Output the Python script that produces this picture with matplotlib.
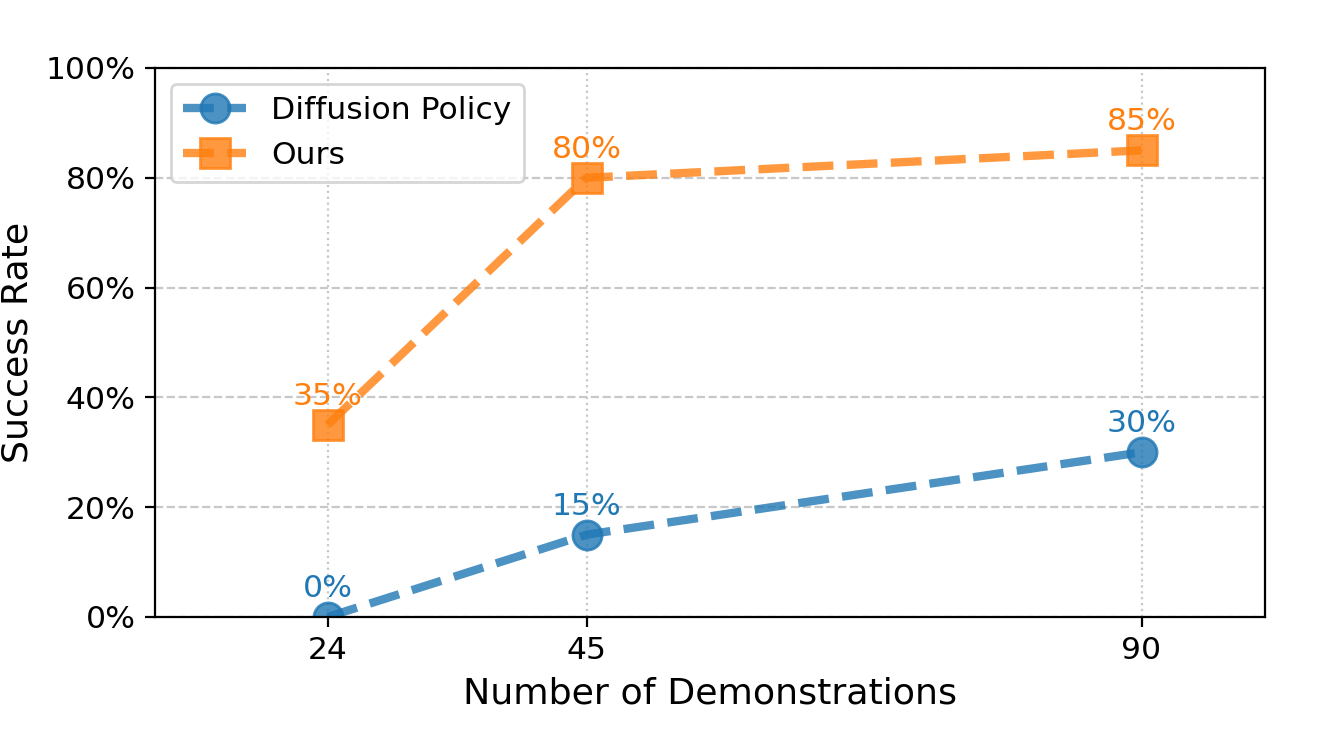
import matplotlib
matplotlib.use('Agg')
import matplotlib.pyplot as plt
from matplotlib.ticker import PercentFormatter

demos = [24, 45, 90]
diffusion_policy = [0, 15, 30]
ours = [35, 80, 85]

fig, ax = plt.subplots(figsize=(6.65, 3.655), dpi=200)
fig.subplots_adjust(left=0.1165, right=0.951, top=0.907, bottom=0.156)

ax.plot(demos, diffusion_policy, '--o', color='tab:blue', lw=3, markersize=10.5,
        alpha=0.8, label='Diffusion Policy')
ax.plot(demos, ours, '--s', color='tab:orange', lw=3, markersize=10.5,
        alpha=0.8, label='Ours')

for x, y in zip(demos, diffusion_policy):
    ax.annotate(f'{y}%', (x, y), xytext=(0, 5), textcoords='offset points',
                ha='center', va='bottom', fontsize=11.3, color='tab:blue')
for x, y in zip(demos, ours):
    ax.annotate(f'{y}%', (x, y), xytext=(0, 5), textcoords='offset points',
                ha='center', va='bottom', fontsize=11.3, color='tab:orange')

ax.set_xlim(10, 100)
ax.set_ylim(0, 100)
ax.set_xticks(demos)
ax.set_yticks(range(0, 101, 20))
ax.yaxis.set_major_formatter(PercentFormatter(decimals=0))
ax.tick_params(labelsize=11.3)
ax.set_xlabel('Number of Demonstrations', fontsize=13.1)
ax.set_ylabel('Success Rate', fontsize=13.1)
ax.grid(axis='y', linestyle='--', color='#c8c8c8')
ax.grid(axis='x', linestyle=':', color='#c8c8c8')
ax.legend(loc='upper left', fontsize=11.3)

fig.savefig('out.png')
